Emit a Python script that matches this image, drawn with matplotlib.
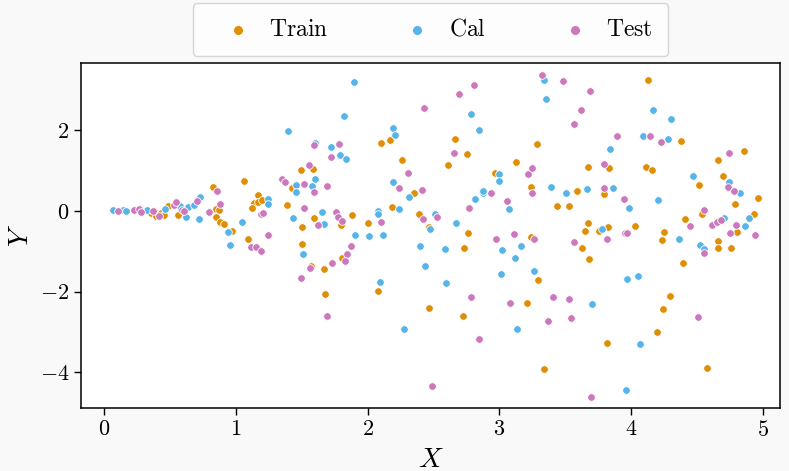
import matplotlib
matplotlib.use("Agg")
import matplotlib.pyplot as plt
import numpy as np

train_x = [0.357,0.382,0.395,0.432,0.453,0.488,0.564,0.829,0.850,0.870,0.850,0.882,0.908,0.969,1.060,1.166,1.140,1.121,1.171,1.093,1.201,
           1.391,1.424,1.500,1.497,1.586,1.593,1.796,1.882,2.003,2.102,2.170,2.263,2.183,2.354,2.392,2.466,1.502,1.571,1.671,1.674,
           1.808,2.079,2.468,2.762,2.610,2.754,2.661,2.967,3.126,3.240,3.240,3.283,3.439,3.528,3.589,3.672,3.672,3.647,3.756,3.826,
           3.834,3.794,2.729,3.293,2.722,3.209,3.819,3.336,3.624,3.680,4.125,4.376,4.112,4.156,4.031,4.251,4.231,4.512,4.410,4.537,
           4.661,4.699,4.854,4.785,4.964,4.932,4.805,4.659,4.659,4.757,4.393,4.297,4.239,4.193,4.575]
train_y = [-0.057,0.007,-0.124,-0.042,-0.099,0.124,-0.107,0.589,0.057,0.025,-0.142,-0.266,-0.323,-0.497,0.745,0.405,0.191,0.082,0.231,-0.708,0.273,
           0.149,0.571,-0.390,1.019,1.043,-0.174,-0.355,-0.092,-0.291,1.689,1.764,1.267,0.107,0.447,-0.082,-0.405,-0.827,-1.359,-1.448,-2.055,
           -1.175,-1.995,-2.417,-0.554,1.150,1.416,1.796,0.937,1.217,0.604,-0.653,1.657,0.124,0.124,0.497,1.086,-0.298,-0.504,-0.489,-0.390,
           1.076,0.415,-0.919,-1.722,-2.616,-2.278,-3.272,-3.918,-0.919,-1.185,3.247,1.732,1.101,1.026,-0.365,-0.522,-0.733,0.639,-0.206,-0.075,
           1.260,0.862,1.491,0.174,0.323,-0.067,-0.529,-0.745,-0.927,-0.919,-1.284,-2.104,-2.427,-3.014,-3.908]

cal_x = [0.066,0.142,0.167,0.324,0.463,0.579,0.624,0.640,0.685,0.711,0.731,0.719,0.943,0.958,1.049,1.247,1.242,1.398,1.454,1.457,1.432,
         1.601,1.603,1.576,1.671,1.654,1.722,1.791,1.834,1.823,1.897,1.904,2.011,2.079,2.081,2.115,2.193,2.206,2.190,2.238,2.316,2.473,
         2.511,1.508,2.094,2.398,2.438,2.274,2.668,2.813,2.873,2.878,2.782,2.843,2.997,2.999,3.071,3.341,3.356,3.392,3.503,3.662,3.776,
         3.839,2.585,3.017,3.162,3.116,2.595,3.010,3.263,3.705,3.136,4.163,4.304,4.090,4.282,3.862,3.981,4.201,4.360,4.467,4.706,4.742,
         4.825,4.894,4.866,4.522,4.555,3.968,4.052,4.069,3.961]
cal_y = [0.017,0.025,0.007,0.017,0.050,0.124,-0.157,0.107,0.142,0.273,0.348,-0.191,-0.529,-0.852,-0.266,0.291,0.174,1.988,0.653,0.472,-0.181,
         1.697,0.802,0.614,-0.323,-0.017,1.598,1.391,1.299,2.343,3.205,-0.604,-0.621,0.007,-0.075,-0.589,2.062,1.896,0.713,0.057,0.340,-0.447,
         -0.082,-1.061,-1.764,-0.870,-1.366,-2.932,-0.298,0.291,0.455,0.504,2.402,2.005,0.927,0.745,0.057,3.237,2.783,0.589,0.447,0.539,-0.440,
         1.533,-0.944,-0.969,-0.870,-1.160,-1.781,-1.558,-1.491,-2.318,-2.932,2.492,2.293,1.856,1.789,0.564,0.067,0.273,-0.708,0.870,-0.181,0.728,
         0.440,-0.166,-0.380,-0.845,-0.952,-1.682,-1.607,-3.312,-4.440]

test_x = [0.104,0.230,0.268,0.281,0.370,0.420,0.529,0.546,0.590,0.609,0.706,0.794,0.857,0.880,1.191,1.115,1.153,1.193,1.209,1.242,1.348,
          1.373,1.515,1.515,1.555,1.596,1.596,1.626,1.692,1.725,1.781,1.760,1.773,1.803,2.102,2.309,2.238,2.413,2.428,2.423,1.497,1.565,
          1.694,1.732,1.872,1.841,1.831,2.489,2.529,2.769,2.936,2.977,2.656,2.696,2.810,3.058,3.113,3.215,3.245,3.245,3.265,3.323,3.480,
          3.564,3.619,3.690,3.816,3.794,3.796,2.785,3.080,3.407,3.530,3.366,3.546,2.843,3.697,3.564,3.892,4.140,4.224,3.948,3.953,3.968,
          4.448,4.552,4.611,4.649,4.684,4.744,4.737,4.778,4.795,4.750,4.942,4.555,4.509]
test_y = [0.007,0.025,0.050,-0.017,0.007,-0.117,0.142,0.231,0.017,0.007,0.248,-0.017,0.504,0.181,-0.075,-0.902,-0.894,-1.001,-0.057,-0.604,0.802,
          0.728,0.067,0.663,1.143,1.640,0.472,-0.340,0.621,1.349,1.657,-0.025,-0.157,-0.248,-0.273,0.944,0.564,0.529,2.552,-0.206,-1.672,-1.409,
          -2.601,-1.284,-0.870,-1.068,-1.250,-4.348,-0.142,0.075,0.440,-0.688,1.434,2.907,3.113,0.256,-0.579,0.912,1.076,0.455,-0.696,3.371,3.230,
          2.154,2.509,2.964,-0.696,1.168,0.571,-2.137,-2.293,-2.137,-2.179,-2.733,-2.651,-3.180,-4.621,-0.778,1.856,1.856,1.714,0.298,-0.539,-0.547,
          -0.373,0.025,-0.340,-0.281,-0.231,1.448,0.596,0.489,-0.348,-0.547,-0.596,-1.036,-2.641]

labels = ["Train", "Cal", "Test"]
colors = ["#de8f05", "#56b4e9", "#cc78bc"]

plt.rcParams['mathtext.fontset'] = 'cm'
plt.rcParams['axes.formatter.use_mathtext'] = True
plt.rcParams['font.family'] = ['cmr10', 'DejaVu Serif']

fig = plt.figure(figsize=(7.89, 4.71), dpi=100, facecolor='#f9f9f9')
ax = fig.add_axes([0.1027, 0.1338, 0.8859, 0.7324])
ax.set_facecolor('white')

for xs, ys, lab, c in zip([train_x, cal_x, test_x], [train_y, cal_y, test_y], labels, colors):
    ax.scatter(xs, ys, s=30, color=c, edgecolor='white', linewidth=0.6, label="$\\mathrm{%s}$" % lab)

ax.set_xlim(-0.175, 5.13)
ax.set_ylim(-4.89, 3.67)
ax.set_xticks([0, 1, 2, 3, 4, 5])
ax.set_yticks([-4, -2, 0, 2])
ax.tick_params(labelsize=16, length=5, width=1)
for sp in ax.spines.values():
    sp.set_linewidth(1.1)
ax.set_xlabel('$X$', fontsize=20, labelpad=5)
ax.set_ylabel('$Y$', fontsize=20, labelpad=4)

leg = ax.legend(loc='lower center', bbox_to_anchor=(0.5, 1.02), ncol=3, fontsize=17,
                frameon=True, handlelength=2.5, handletextpad=0.1, columnspacing=2.5,
                borderpad=0.65, borderaxespad=0.0, markerscale=1.3, fancybox=True)
leg.get_frame().set_edgecolor('#cccccc')
leg.get_frame().set_linewidth(1.0)

fig.savefig('out.png', dpi=100, facecolor=fig.get_facecolor())
